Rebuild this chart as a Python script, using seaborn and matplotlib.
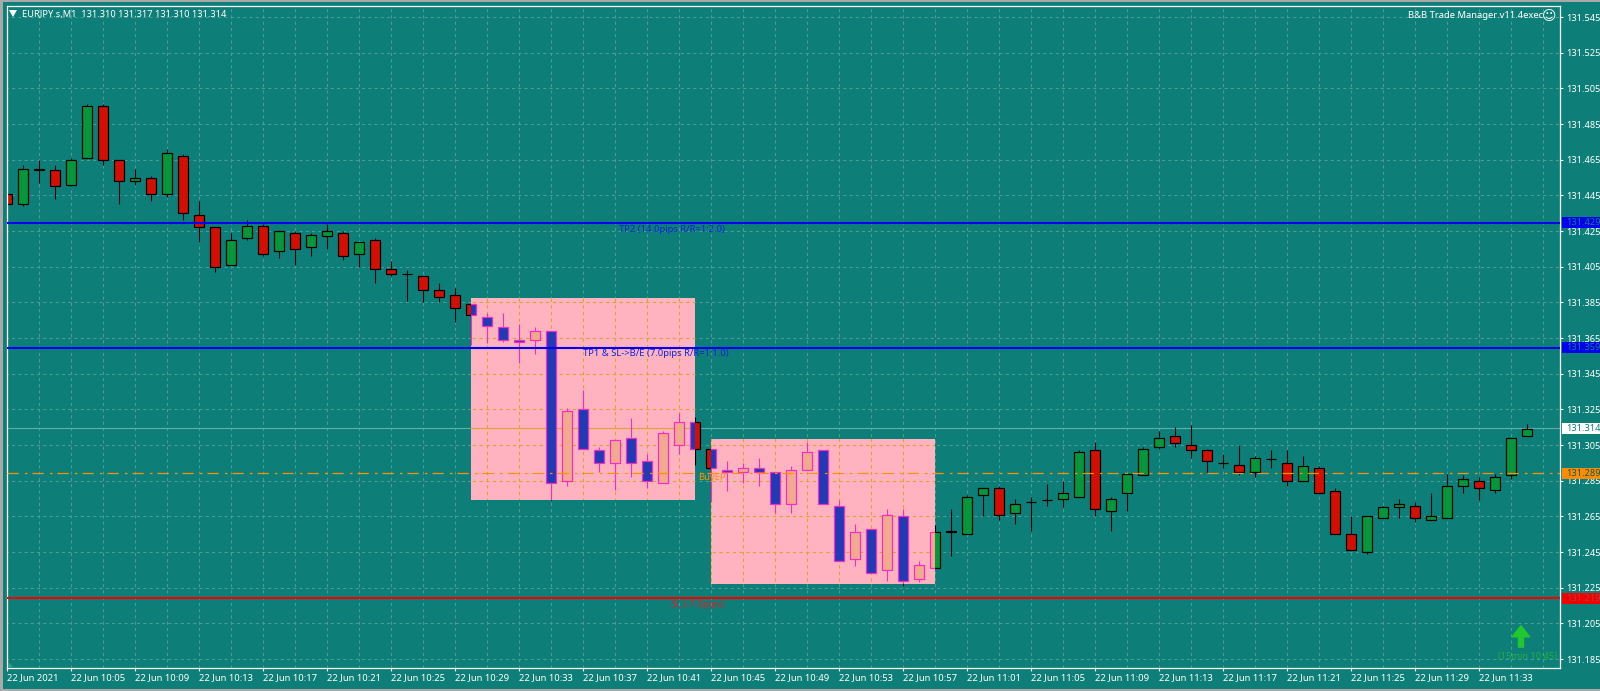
import pandas as pd
import seaborn as sns
import matplotlib.pyplot as plt
from matplotlib.patches import Rectangle, Polygon
from matplotlib.path import Path
from matplotlib.transforms import blended_transform_factory

# bars of 22 Jun 2021, 10:01 to 11:36, one per minute
opens = [131.446, 131.440, 131.459, 131.459, 131.451, 131.466, 131.495, 131.465, 131.453, 131.455, 131.446, 131.467,
         131.434, 131.427, 131.406, 131.421, 131.428, 131.414, 131.424, 131.416, 131.422, 131.424, 131.412, 131.420,
         131.404, 131.401, 131.400, 131.392, 131.389, 131.384, 131.377, 131.371, 131.364, 131.364, 131.369, 131.285,
         131.325, 131.302, 131.295, 131.309, 131.296, 131.284, 131.305, 131.318, 131.303, 131.291, 131.290, 131.292,
         131.290, 131.272, 131.291, 131.302, 131.271, 131.241, 131.258, 131.235, 131.265, 131.230, 131.236, 131.257,
         131.255, 131.277, 131.281, 131.267, 131.273, 131.274, 131.275, 131.276, 131.302, 131.268, 131.278, 131.288,
         131.304, 131.310, 131.305, 131.302, 131.295, 131.294, 131.290, 131.297, 131.295, 131.285, 131.292, 131.279,
         131.255, 131.245, 131.264, 131.270, 131.271, 131.263, 131.264, 131.282, 131.285, 131.280, 131.288, 131.310]
highs = [131.451, 131.462, 131.465, 131.462, 131.466, 131.496, 131.496, 131.465, 131.460, 131.456, 131.471, 131.468,
         131.442, 131.427, 131.424, 131.431, 131.429, 131.425, 131.425, 131.424, 131.429, 131.425, 131.419, 131.421,
         131.408, 131.403, 131.400, 131.396, 131.393, 131.384, 131.379, 131.379, 131.373, 131.371, 131.369, 131.326,
         131.336, 131.304, 131.308, 131.320, 131.300, 131.313, 131.323, 131.321, 131.303, 131.296, 131.295, 131.298,
         131.290, 131.293, 131.307, 131.302, 131.274, 131.261, 131.258, 131.269, 131.269, 131.240, 131.260, 131.269,
         131.277, 131.281, 131.282, 131.275, 131.276, 131.283, 131.285, 131.302, 131.307, 131.276, 131.289, 131.304,
         131.313, 131.315, 131.316, 131.303, 131.300, 131.305, 131.299, 131.302, 131.302, 131.299, 131.293, 131.281,
         131.265, 131.265, 131.271, 131.275, 131.273, 131.278, 131.289, 131.288, 131.287, 131.289, 131.309, 131.317]
lows = [131.438, 131.439, 131.452, 131.443, 131.450, 131.466, 131.462, 131.440, 131.451, 131.442, 131.444, 131.431,
        131.419, 131.402, 131.406, 131.420, 131.411, 131.410, 131.406, 131.411, 131.415, 131.409, 131.405, 131.396,
        131.400, 131.386, 131.385, 131.385, 131.374, 131.361, 131.362, 131.363, 131.351, 131.356, 131.274, 131.282,
        131.303, 131.290, 131.280, 131.287, 131.281, 131.284, 131.300, 131.294, 131.273, 131.279, 131.284, 131.282,
        131.267, 131.267, 131.291, 131.272, 131.240, 131.237, 131.233, 131.229, 131.226, 131.228, 131.236, 131.243,
        131.255, 131.265, 131.263, 131.261, 131.257, 131.271, 131.270, 131.276, 131.265, 131.257, 131.268, 131.288,
        131.303, 131.304, 131.298, 131.290, 131.292, 131.288, 131.287, 131.292, 131.282, 131.285, 131.278, 131.255,
        131.246, 131.244, 131.264, 131.264, 131.262, 131.263, 131.264, 131.278, 131.274, 131.278, 131.286, 131.310]
closes = [131.440, 131.460, 131.460, 131.450, 131.465, 131.495, 131.465, 131.453, 131.455, 131.446, 131.469, 131.435,
          131.427, 131.405, 131.420, 131.428, 131.412, 131.425, 131.415, 131.423, 131.425, 131.411, 131.419, 131.404,
          131.401, 131.401, 131.392, 131.388, 131.382, 131.378, 131.372, 131.364, 131.363, 131.369, 131.284, 131.324,
          131.303, 131.295, 131.308, 131.295, 131.285, 131.312, 131.318, 131.303, 131.292, 131.290, 131.292, 131.290,
          131.272, 131.291, 131.301, 131.272, 131.240, 131.256, 131.233, 131.266, 131.229, 131.238, 131.256, 131.256,
          131.276, 131.281, 131.266, 131.272, 131.273, 131.274, 131.278, 131.301, 131.269, 131.275, 131.289, 131.303,
          131.309, 131.306, 131.302, 131.296, 131.295, 131.290, 131.298, 131.297, 131.285, 131.293, 131.278, 131.255,
          131.246, 131.265, 131.270, 131.272, 131.264, 131.265, 131.282, 131.286, 131.281, 131.287, 131.309, 131.314]

time_labels = ["22 Jun 2021", "22 Jun 10:05", "22 Jun 10:09", "22 Jun 10:13", "22 Jun 10:17", "22 Jun 10:21",
               "22 Jun 10:25", "22 Jun 10:29", "22 Jun 10:33", "22 Jun 10:37", "22 Jun 10:41", "22 Jun 10:45",
               "22 Jun 10:49", "22 Jun 10:53", "22 Jun 10:57", "22 Jun 11:01", "22 Jun 11:05", "22 Jun 11:09",
               "22 Jun 11:13", "22 Jun 11:17", "22 Jun 11:21", "22 Jun 11:25", "22 Jun 11:29", "22 Jun 11:33"]
price_ticks = [131.185, 131.205, 131.225, 131.245, 131.265, 131.285, 131.305, 131.325, 131.345, 131.365, 131.385,
               131.405, 131.425, 131.445, 131.465, 131.485, 131.505, 131.525, 131.545]

# trade levels
tp2_price, tp1_price, entry_price, sl_price, last_price = 131.4296, 131.3596, 131.2891, 131.2192, 131.3144

# highlighted zones: first bar, last bar, top, bottom
zones = [(29, 43, 131.3874, 131.2742), (44, 58, 131.3084, 131.2271)]

BG = "#0E7F78"
GRID = "#4A9C97"
ZONE_GRID = "#E0A32E"
GREEN = "#07963A"
RED = "#D20F00"
BLUE_BODY = "#2138B8"
PEACH_BODY = "#F2A98F"
MAGENTA = "#F22FBE"
FONT = "Noto Sans"

sns.set_theme(style="ticks")
plt.rcParams["font.family"] = [FONT, "DejaVu Sans"]

candles = pd.DataFrame({"open": opens, "high": highs, "low": lows, "close": closes})
candles["minute"] = range(len(candles))
candles["bottom"] = candles[["open", "close"]].min(axis=1)
candles["body"] = (candles["close"] - candles["open"]).abs()
candles["is_up"] = candles["close"] >= candles["open"]

fig = plt.figure(figsize=(16, 6.91), dpi=100, facecolor=BG)
ax = fig.add_axes([7 / 1600, 1 - 668 / 691, 1553 / 1600, 662 / 691], facecolor=BG)


def draw_candles(up_color, down_color, edge, zorder, clip=None):
    wicks = ax.vlines(candles["minute"], candles["low"], candles["high"], color=edge, lw=0.8, zorder=zorder)
    sns.barplot(data=candles, x="minute", y="body", bottom=candles["bottom"], native_scale=True, errorbar=None,
                width=0.62, color=up_color, saturation=1, edgecolor=edge, linewidth=0.9, zorder=zorder + 0.1, ax=ax)
    bars = ax.containers[-1]
    for bar, is_up in zip(bars, candles["is_up"]):
        bar.set_facecolor(up_color if is_up else down_color)
        if clip is not None:
            bar.set_clip_path(clip, ax.transData)
    if clip is not None:
        wicks.set_clip_path(clip, ax.transData)


grid_x = list(range(0, 97, 2))
dash = (0, (3, 3))
ax.vlines(grid_x, 131.18, 131.5512, color=GRID, lw=0.75, linestyles=[dash], zorder=1)
ax.hlines(price_ticks, -1, 98, color=GRID, lw=0.75, linestyles=[dash], zorder=1)
ax.axhline(last_price, color="#5FAFA9", lw=0.8, zorder=1.2)

draw_candles(GREEN, RED, "black", 2)

zone_paths = []
for first, last, top, bottom in zones:
    ax.add_patch(Rectangle((first, bottom), last - first, top - bottom, facecolor="#FFB3C1", edgecolor="none", zorder=3))
    zone_paths.append(Path([(first, bottom), (last, bottom), (last, top), (first, top), (first, bottom)], closed=True))
zone_clip = Path.make_compound_path(*zone_paths)

# same grid and bars again inside the zones, in the zone colours
zone_v = ax.vlines(grid_x, 131.18, 131.5512, color=ZONE_GRID, lw=0.8, linestyles=[dash], zorder=3.1)
zone_h = ax.hlines(price_ticks, -1, 98, color=ZONE_GRID, lw=0.8, linestyles=[dash], zorder=3.1)
zone_last = ax.hlines([last_price], -1, 98, color=ZONE_GRID, lw=0.8, zorder=3.1)
for line in (zone_v, zone_h, zone_last):
    line.set_clip_path(zone_clip, ax.transData)
draw_candles(PEACH_BODY, BLUE_BODY, MAGENTA, 3.2, clip=zone_clip)

ax.axhline(tp2_price, color="#0000F0", lw=1.5, zorder=4)
ax.axhline(tp1_price, color="#0000F0", lw=1.5, zorder=4)
ax.axhline(sl_price, color="#F00000", lw=1.5, zorder=4)
ax.axhline(entry_price, color="#FF9000", lw=0.9, linestyle=(0, (9, 5, 2, 4)), zorder=4)

ax.set_xlim(-0.02, 97.04)
ax.set_ylim(131.18, 131.5512)
ax.set_xlabel("")
ax.set_ylabel("")

ax.yaxis.tick_right()
ax.set_yticks(price_ticks, [f"{p:.3f}" for p in price_ticks])
ax.set_xticks(range(0, 96, 4), time_labels)
ax.tick_params(axis="y", colors="white", length=2.2, width=0.8, labelsize=6.6, pad=2)
ax.tick_params(axis="x", colors="white", length=2.2, width=0.8, labelsize=6.8, pad=1.2)
for label in ax.get_xticklabels():
    label.set_ha("left")
for spine in ax.spines.values():
    spine.set_visible(True)
    spine.set_color("white")
    spine.set_linewidth(0.9)

# price tags on the scale
tag_trans = blended_transform_factory(ax.transAxes, ax.transData)
tags = [(tp2_price, "131.429", "#0000F0", BG), (tp1_price, "131.359", "#0000F0", BG),
        (entry_price, "131.289", "#FF8C00", "#0A5A50"), (sl_price, "131.219", "#F00000", "#B04040"),
        (last_price, "131.314", "white", BG)]
for price, text, face, color in tags:
    ax.add_patch(Rectangle((1.0013, price - 0.0031), 0.026, 0.0062, transform=tag_trans, facecolor=face,
                           edgecolor="none", clip_on=False, zorder=6))
    ax.text(1.0040, price, text, transform=tag_trans, color=color, fontsize=6.6, va="center", ha="left",
            clip_on=False, zorder=7)

# object labels
ax.text(38.2, 131.4260, "TP2 (14.0pips R/R=1:2.0)", color="#0A24D8", fontsize=6.8, va="center", zorder=5)
ax.text(36.0, 131.3566, "TP1 & SL->B/E (7.0pips R/R=1:1.0)", color="#0A24D8", fontsize=6.8, va="center", zorder=5)
ax.text(43.2, 131.2866, "BuyEP", color="#FF9000", fontsize=6.8, va="center", zorder=5)
ax.text(41.5, 131.2157, "SL (-7.0pips)", color="#D8202A", fontsize=6.8, va="center", zorder=5)

# arrow and its note, bottom right
ax.annotate("", xy=(94.6, 131.2037), xytext=(94.6, 131.1917), zorder=5,
            arrowprops=dict(width=3.6, headwidth=12.5, headlength=8, color="#22C72F", shrink=0))
ax.text(95.04, 131.1862, "(15min 10:45)", color="#22B040", fontsize=6.6, ha="center", va="center", zorder=5)

# header texts, placed in pixels
ax.text(22 / 1600, 1 - 14.5 / 691, "EURJPY.s,M1  131.310 131.317 131.310 131.314", transform=fig.transFigure,
        color="white", fontsize=6.7, va="center", zorder=6)
fig.text(1543 / 1600, 1 - 16 / 691, "B&B Trade Manager.v11.4exec", color="white", fontsize=6.8, ha="right", va="center")
fig.text(1549.5 / 1600, 1 - 16 / 691, "\u263a", color="white", fontsize=10, ha="center", va="center",
         family="DejaVu Sans")

# window chrome
height = 691
pix = fig.transFigure
fig.patches.append(Polygon([(9 / 1600, 1 - 10 / height), (17 / 1600, 1 - 10 / height), (13 / 1600, 1 - 17 / height)],
                           transform=pix, facecolor="white", edgecolor="none"))
fig.patches.append(Polygon([(8 / 1600, 1 - 662 / height), (8 / 1600, 1 - 667 / height), (13 / 1600, 1 - 667 / height)],
                           transform=pix, facecolor="#3E9A94", edgecolor="none"))
fig.patches.append(Rectangle((0, 1 - 2 / height), 1, 2 / height, transform=pix, facecolor="#A9A9A9", edgecolor="none"))
fig.patches.append(Rectangle((0, 0), 1, 2 / height, transform=pix, facecolor="#A9A9A9", edgecolor="none"))
fig.patches.append(Rectangle((0, 0), 2.5 / 1600, 1, transform=pix, facecolor="#A9A9A9", edgecolor="none"))

fig.savefig("out.png", dpi=100, facecolor=BG)
